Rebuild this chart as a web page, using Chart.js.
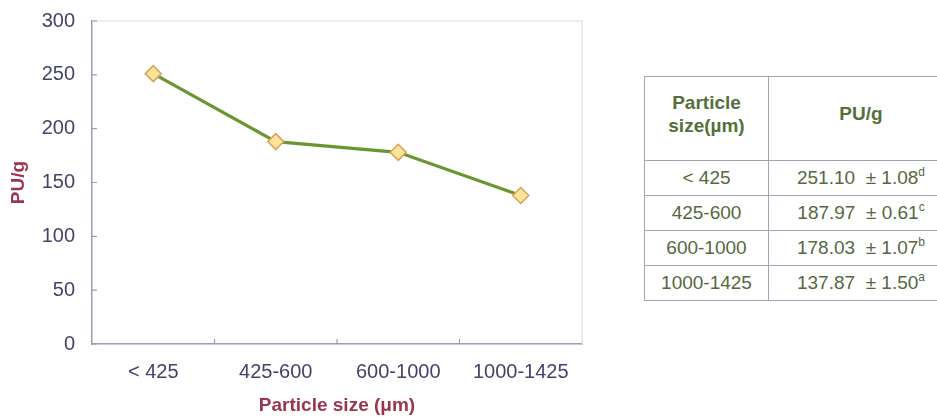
<!DOCTYPE html>
<html>
<head>
<meta charset="utf-8">
<script src="https://cdn.jsdelivr.net/npm/chart.js@4.4.1/dist/chart.umd.min.js"></script>
<style>
  html, body { margin: 0; padding: 0; background: #fff; width: 937px; height: 417px; overflow: hidden; }
  #wrap { position: absolute; left: 0; top: 0; width: 600px; height: 417px; }
  #tbl {
    position: absolute; left: 644px; top: 76px; width: 310px;
    border-collapse: collapse; table-layout: fixed;
    font-family: "Liberation Sans", Arial, sans-serif; font-size: 19px; color: #56683f;
  }
  #tbl td, #tbl th { border: 1.5px solid #a3a3b4; text-align: center; padding: 0; }
  #tbl th { font-weight: bold; color: #55703a; height: 83px; line-height: 23px; font-size: 19px; }
  #tbl th span { position: relative; top: -5px; }
  #tbl td { height: 34px; }
  #tbl col.c1 { width: 124px; }
  #tbl sup { font-size: 12px; vertical-align: 8px; line-height: 0; }
</style>
</head>
<body>
<div id="wrap"><canvas id="c"></canvas></div>
<table id="tbl">
  <colgroup><col class="c1"><col></colgroup>
  <thead><tr><th><span>Particle<br>size(µm)</span></th><th><span>PU/g</span></th></tr></thead>
  <tbody id="tb"></tbody>
</table>
<script>
// Particle size classes and measured activity (PU/g), with standard error and significance letters
const categories = ['< 425', '425-600', '600-1000', '1000-1425'];
const puPerGram = [251.10, 187.97, 178.03, 137.87];
const stdErr = [1.08, 0.61, 1.07, 1.50];
const groupLetters = ['d', 'c', 'b', 'a'];
const yTicks = [0, 50, 100, 150, 200, 250, 300];

// Summary table next to the chart
const tb = document.getElementById('tb');
categories.forEach((cat, i) => {
  const tr = document.createElement('tr');
  const td1 = document.createElement('td');
  td1.textContent = cat;
  const td2 = document.createElement('td');
  td2.innerHTML = puPerGram[i].toFixed(2) + ' &nbsp;± ' + stdErr[i].toFixed(2) + '<sup>' + groupLetters[i] + '</sup>';
  tr.appendChild(td1); tr.appendChild(td2);
  tb.appendChild(tr);
});

const AXIS = '#9c9cb2';
const TICK_TXT = '#44446a';
const TITLE_TXT = '#9a3550';
const FONT = '"Liberation Sans", Arial, sans-serif';

// Inside tick marks plus the light frame on the top and right of the plot
const frame = {
  id: 'frame',
  afterDraw(chart) {
    const { ctx, chartArea: a, scales } = chart;
    ctx.save();
    ctx.strokeStyle = '#dedee8';
    ctx.lineWidth = 1.2;
    ctx.beginPath();
    ctx.moveTo(a.left, a.top); ctx.lineTo(a.right, a.top); ctx.lineTo(a.right, a.bottom);
    ctx.stroke();
    ctx.strokeStyle = AXIS;
    ctx.lineWidth = 1.2;
    ctx.beginPath();
    yTicks.forEach(v => {
      const y = scales.y.getPixelForValue(v);
      ctx.moveTo(a.left, y); ctx.lineTo(a.left + 5, y);
    });
    for (let i = 1; i < categories.length; i++) {
      const x = (scales.x.getPixelForValue(i - 1) + scales.x.getPixelForValue(i)) / 2;
      ctx.moveTo(x, a.bottom); ctx.lineTo(x, a.bottom - 5);
    }
    ctx.stroke();
    ctx.restore();
  }
};

new Chart(document.getElementById('c'), {
  type: 'line',
  data: {
    labels: categories,
    datasets: [{
      data: puPerGram,
      borderColor: '#6a9632',
      borderWidth: 3.2,
      pointStyle: 'rectRot',
      pointRadius: 8,
      pointHoverRadius: 8,
      pointBackgroundColor: '#fde49a',
      pointBorderColor: '#d8a25c',
      pointBorderWidth: 1.5,
      tension: 0
    }]
  },
  options: {
    responsive: true,
    maintainAspectRatio: false,
    animation: false,
    layout: { autoPadding: false, padding: { left: 0, top: 21, right: 18, bottom: 0 } },
    plugins: { legend: { display: false }, tooltip: { enabled: false } },
    scales: {
      x: {
        offset: true,
        grid: { display: false, drawTicks: false },
        border: { display: true, color: AXIS, width: 1.5 },
        ticks: { color: TICK_TXT, font: { family: FONT, size: 20 }, padding: 16, maxRotation: 0 },
        title: {
          display: true, text: 'Particle size (\u03bcm)', color: TITLE_TXT,
          font: { family: FONT, size: 19, weight: 'bold' }, padding: { top: 0, bottom: 0 }
        },
        afterFit(s) { s.height = 73; s.paddingLeft = 0; s.paddingRight = 0; }
      },
      y: {
        min: 0, max: 300,
        afterBuildTicks(s) { s.ticks = yTicks.map(v => ({ value: v })); },
        grid: { display: false, drawTicks: false },
        border: { display: true, color: AXIS, width: 1.5 },
        ticks: { color: TICK_TXT, font: { family: FONT, size: 20 }, padding: 17 },
        title: {
          display: true, text: 'PU/g', color: TITLE_TXT,
          font: { family: FONT, size: 19, weight: 'bold' }, padding: { top: 7, bottom: 0 }
        },
        afterFit(s) { s.width = 92; s.paddingTop = 0; s.paddingBottom = 0; }
      }
    }
  },
  plugins: [frame]
});
</script>
</body>
</html>
